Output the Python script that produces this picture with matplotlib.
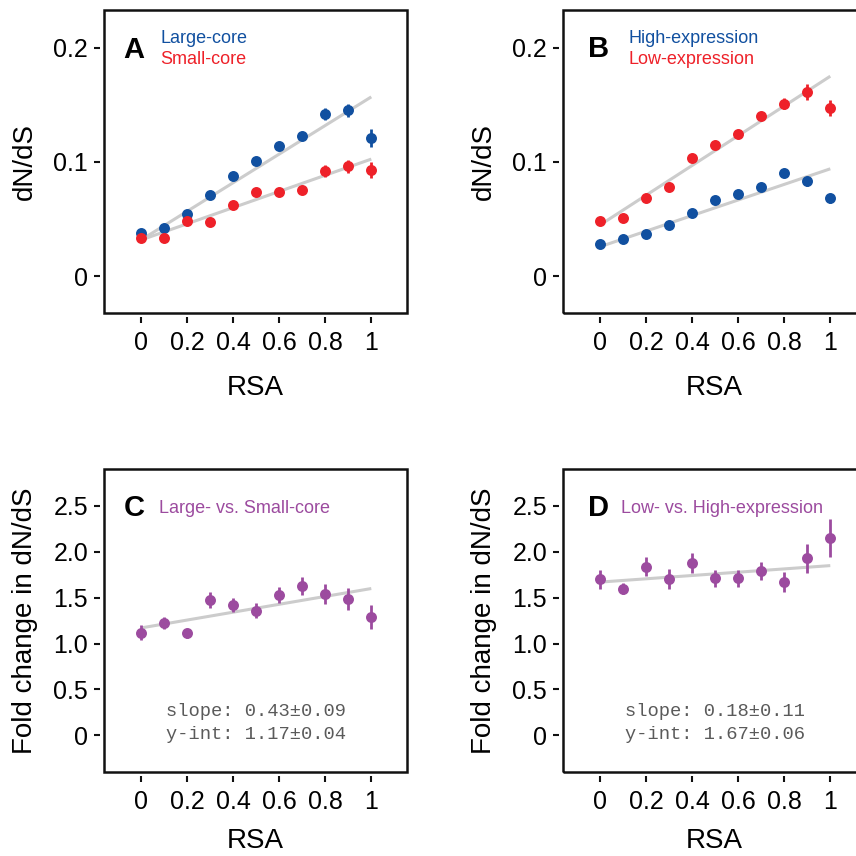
import matplotlib
matplotlib.use('Agg')
import matplotlib.pyplot as plt
from matplotlib.patches import Rectangle
import matplotlib.transforms as mtransforms

plt.rcParams['font.family'] = ['Liberation Sans', 'DejaVu Sans']

# ---------------- data ----------------
rsa = [0.0, 0.1, 0.2, 0.3, 0.4, 0.5, 0.6, 0.7, 0.8, 0.9, 1.0]
x_ticks = [0, 0.2, 0.4, 0.6, 0.8, 1.0]
x_ticklabels = ['0', '0.2', '0.4', '0.6', '0.8', '1']

top_yticks = [0, 0.1, 0.2]
top_yticklabels = ['0', '0.1', '0.2']
bot_yticks = [0, 0.5, 1.0, 1.5, 2.0, 2.5]
bot_yticklabels = ['0', '0.5', '1.0', '1.5', '2.0', '2.5']

# Panel A
a_large = [0.038, 0.042, 0.054, 0.071, 0.088, 0.101, 0.114, 0.123, 0.142, 0.145, 0.121]
a_large_err = [0.002, 0.002, 0.002, 0.002, 0.002, 0.002, 0.002, 0.003, 0.005, 0.006, 0.008]
a_small = [0.033, 0.033, 0.048, 0.047, 0.062, 0.074, 0.074, 0.075, 0.092, 0.096, 0.093]
a_small_err = [0.002, 0.002, 0.002, 0.002, 0.002, 0.002, 0.002, 0.003, 0.005, 0.006, 0.007]
a_large_fit = [0.0315, 0.1569]   # line value at RSA 0 and 1
a_small_fit = [0.0315, 0.1024]

# Panel B
b_high = [0.028, 0.032, 0.037, 0.045, 0.055, 0.067, 0.072, 0.078, 0.090, 0.083, 0.068]
b_high_err = [0.002, 0.002, 0.002, 0.002, 0.002, 0.002, 0.002, 0.002, 0.003, 0.004, 0.004]
b_low = [0.048, 0.051, 0.068, 0.078, 0.103, 0.115, 0.124, 0.140, 0.151, 0.161, 0.147]
b_low_err = [0.002, 0.002, 0.002, 0.002, 0.002, 0.002, 0.002, 0.003, 0.005, 0.007, 0.007]
b_low_fit = [0.0446, 0.175]
b_high_fit = [0.0256, 0.0939]

# Panel C
c_fold = [1.12, 1.22, 1.11, 1.48, 1.42, 1.36, 1.53, 1.63, 1.54, 1.49, 1.29]
c_err = [0.08, 0.065, 0.045, 0.087, 0.08, 0.08, 0.087, 0.10, 0.11, 0.12, 0.127]
c_slope, c_slope_err = 0.43, 0.09
c_int, c_int_err = 1.17, 0.04

# Panel D
d_fold = [1.70, 1.60, 1.84, 1.70, 1.88, 1.71, 1.71, 1.79, 1.67, 1.93, 2.15]
d_err = [0.10, 0.06, 0.10, 0.11, 0.11, 0.095, 0.095, 0.095, 0.11, 0.16, 0.21]
d_slope, d_slope_err = 0.18, 0.11
d_int, d_int_err = 1.67, 0.06

# ---------------- style ----------------
BLUE = '#1150a0'
RED = '#ee2129'
PURPLE = '#9c4b9f'
GRAY = '#cccccc'
TXTGRAY = '#5a5a5a'

W = 856
fig = plt.figure(figsize=(8.56, 8.56), dpi=100)


def make_ax(left_px, top_px, size_px=303):
    return fig.add_axes([left_px / W, 1 - (top_px + size_px) / W, size_px / W, size_px / W])


def style_ax(ax, yticks, yticklabels, ylim, ylabel, xlabelpad):
    for s in ax.spines.values():
        s.set_visible(False)
    ax.spines['left'].set_position(('outward', 2.8))
    ax.spines['bottom'].set_position(('outward', 2.6))
    ax.add_patch(Rectangle((0, 0), 1, 1, transform=ax.transAxes, fill=False,
                           lw=1.8, edgecolor='#111111', clip_on=False, zorder=10))
    ax.set_xlim(-0.16, 1.155)
    ax.set_ylim(*ylim)
    ax.set_xticks(x_ticks)
    ax.set_xticklabels(x_ticklabels)
    ax.set_yticks(yticks)
    ax.set_yticklabels(yticklabels)
    ax.tick_params(axis='both', direction='out', length=4.6, width=1.5,
                   labelsize=18, color='#111111')
    ax.tick_params(axis='x', pad=6)
    ax.tick_params(axis='y', pad=4)
    ax.set_xlabel('RSA', fontsize=20, labelpad=xlabelpad)
    ax.set_ylabel(ylabel, fontsize=20)
    ax.yaxis.set_label_coords(-0.262, 0.5)
    ax.yaxis.label.set_va('center')


def fit_line(ax, ends, zorder=1):
    ax.plot([rsa[0], rsa[-1]], ends, color=GRAY, lw=2.2, zorder=zorder,
            solid_capstyle='butt')


def points(ax, y, err, color):
    ax.errorbar(rsa, y, yerr=err, fmt='o', color=color, ms=7.9, mew=0,
                elinewidth=2.0, capsize=0, zorder=3)


top_ylim = (-0.0324, 0.233)
bot_ylim = (-0.40, 2.903)

# Panel A
axA = make_ax(104, 10)
style_ax(axA, top_yticks, top_yticklabels, top_ylim, 'dN/dS', 14)
fit_line(axA, a_large_fit)
fit_line(axA, a_small_fit)
points(axA, a_large, a_large_err, BLUE)
points(axA, a_small, a_small_err, RED)
axA.text(0.063, 0.8406, 'A', transform=axA.transAxes, fontsize=21,
         fontweight='bold', ha='left', va='baseline')
axA.text(0.185, 0.892, 'Large-core', transform=axA.transAxes, fontsize=13,
         color=BLUE, ha='left', va='baseline')
axA.text(0.185, 0.821, 'Small-core', transform=axA.transAxes, fontsize=13,
         color=RED, ha='left', va='baseline')

# Panel B
axB = make_ax(563, 10)
style_ax(axB, top_yticks, top_yticklabels, top_ylim, 'dN/dS', 14)
fit_line(axB, b_low_fit)
fit_line(axB, b_high_fit)
points(axB, b_high, b_high_err, BLUE)
points(axB, b_low, b_low_err, RED)
axB.text(0.0835, 0.846, 'B', transform=axB.transAxes, fontsize=21,
         fontweight='bold', ha='left', va='baseline')
axB.text(0.2155, 0.892, 'High-expression', transform=axB.transAxes, fontsize=13,
         color=BLUE, ha='left', va='baseline')
axB.text(0.2155, 0.821, 'Low-expression', transform=axB.transAxes, fontsize=13,
         color=RED, ha='left', va='baseline')


def stats_text(ax, slope, slope_err, inter, inter_err):
    tr = mtransforms.blended_transform_factory(ax.transData, ax.transAxes)
    ax.text(0.5, 0.185, f'slope: {slope:.2f}\u00b1{slope_err:.2f}', transform=tr,
            family=['Liberation Mono', 'DejaVu Sans Mono'], fontsize=13.5,
            color=TXTGRAY, ha='center', va='baseline')
    ax.text(0.5, 0.109, f'y-int: {inter:.2f}\u00b1{inter_err:.2f}', transform=tr,
            family=['Liberation Mono', 'DejaVu Sans Mono'], fontsize=13.5,
            color=TXTGRAY, ha='center', va='baseline')


# Panel C
axC = make_ax(104, 469)
style_ax(axC, bot_yticks, bot_yticklabels, bot_ylim, 'Fold change in dN/dS', 10)
fit_line(axC, [c_int + c_slope * rsa[0], c_int + c_slope * rsa[-1]])
points(axC, c_fold, c_err, PURPLE)
axC.text(0.066, 0.845, 'C', transform=axC.transAxes, fontsize=21,
         fontweight='bold', ha='left', va='baseline')
axC.text(0.1815, 0.856, 'Large- vs. Small-core', transform=axC.transAxes,
         fontsize=13, color=PURPLE, ha='left', va='baseline')
stats_text(axC, c_slope, c_slope_err, c_int, c_int_err)

# Panel D
axD = make_ax(563, 469)
style_ax(axD, bot_yticks, bot_yticklabels, bot_ylim, 'Fold change in dN/dS', 10)
fit_line(axD, [d_int + d_slope * rsa[0], d_int + d_slope * rsa[-1]])
points(axD, d_fold, d_err, PURPLE)
axD.text(0.0835, 0.845, 'D', transform=axD.transAxes, fontsize=21,
         fontweight='bold', ha='left', va='baseline')
axD.text(0.191, 0.856, 'Low- vs. High-expression', transform=axD.transAxes,
         fontsize=13, color=PURPLE, ha='left', va='baseline')
stats_text(axD, d_slope, d_slope_err, d_int, d_int_err)

fig.savefig('out.png', dpi=100)
